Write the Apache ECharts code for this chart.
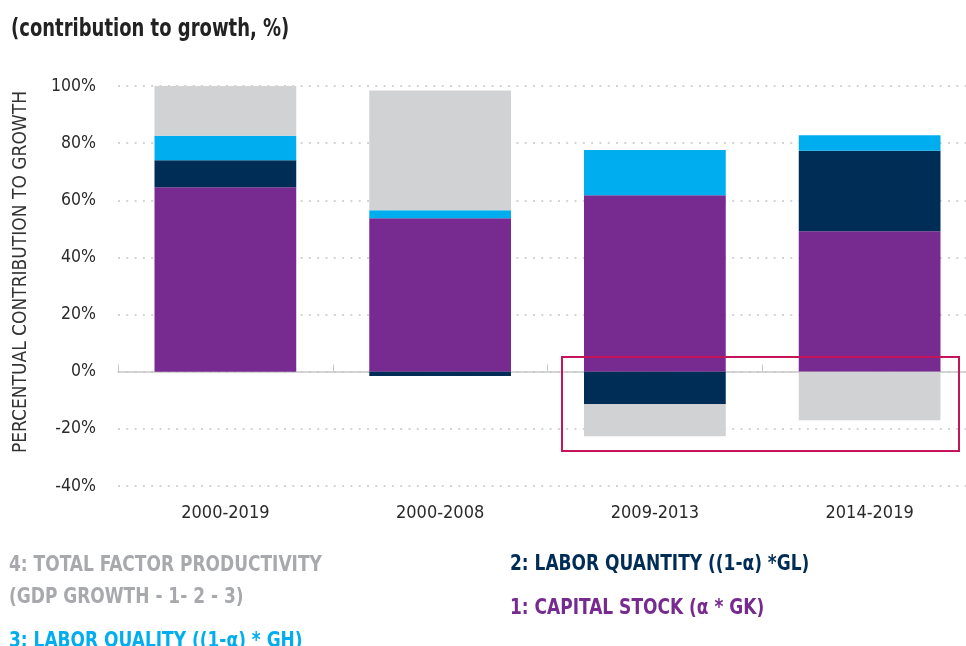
<!DOCTYPE html>
<html>
<head>
<meta charset="utf-8">
<script src="https://cdn.jsdelivr.net/npm/echarts@6/dist/echarts.min.js"></script>
<style>
  html, body { margin: 0; padding: 0; background: #fff; }
  #chart { width: 966px; height: 646px; }
</style>
</head>
<body>
<div id="chart"></div>
<script>
  // data (% contribution to growth)
  var periods = ['2000-2019', '2000-2008', '2009-2013', '2014-2019']
  var capitalStock = [64.6, 53.7, 61.8, 49.2]
  var laborQuantity = [9.4, -1.5, -11.4, 28.1]
  var laborQuality = [8.6, 2.8, 15.8, 5.5]
  var tfp = [17.4, 41.9, -11.2, -17.0]
  var yTicks = [-40, -20, 0, 20, 40, 60, 80, 100]

  var names = [
    '1: CAPITAL STOCK (α * GK)',
    '2: LABOR QUANTITY ((1-α) *GL)',
    '3: LABOR QUALITY ((1-α) * GH)',
    '4: TOTAL FACTOR PRODUCTIVITY\n(GDP GROWTH - 1- 2 - 3)'
  ]
  var colors = ['#772a8f', '#002d56', '#00aeef', '#d1d2d4']
  var legendColors = ['#772a8f', '#002d56', '#00aeef', '#a7a9ac']

  var FONT = '"Liberation Sans Narrow", "DejaVu Sans Condensed", sans-serif'

  var chart = echarts.init(document.getElementById('chart'))

  function barSeries (i, data) {
    return {
      name: names[i],
      type: 'bar',
      stack: 'total',
      data: data,
      barWidth: '66%',
      itemStyle: { color: colors[i] }
    }
  }

  // legend is plain coloured text, slightly squeezed to look condensed
  function legendText (i, x, y) {
    return {
      type: 'text', x: x, y: y, scaleX: 0.86,
      style: { text: names[i], fill: legendColors[i], font: 'bold 22px ' + FONT, lineHeight: 32 }
    }
  }

  chart.setOption({
    animation: false,
    textStyle: { fontFamily: FONT },
    grid: { left: 118, width: 859, top: 86, bottom: 160, outerBoundsMode: 'none' },
    xAxis: [
      { // labels along the bottom
        type: 'category',
        data: periods,
        position: 'bottom',
        axisLine: { show: false, onZero: false },
        axisTick: { show: false },
        axisLabel: { color: '#2a2a2a', fontSize: 18, margin: 18, fontFamily: FONT }
      },
      { // line + ticks at zero
        type: 'category',
        data: periods,
        position: 'bottom',
        axisLine: { show: true, onZero: true, lineStyle: { color: '#c8c8c8', width: 1.5 } },
        axisTick: { show: true, inside: true, length: 7, lineStyle: { color: '#c8c8c8' } },
        axisLabel: { show: false }
      }
    ],
    yAxis: {
      type: 'value',
      min: yTicks[0],
      max: yTicks[yTicks.length - 1],
      interval: 20,
      axisLine: { show: false },
      axisTick: { show: false },
      axisLabel: {
        color: '#2a2a2a',
        fontSize: 17.5,
        margin: 22,
        fontFamily: FONT,
        formatter: function (v) { return v + '%' }
      },
      splitLine: {
        show: true,
        lineStyle: { color: '#d4d4d4', width: 2, type: [2, 6.3] }
      }
    },
    series: [
      barSeries(0, capitalStock),
      barSeries(1, laborQuantity),
      barSeries(2, laborQuality),
      barSeries(3, tfp)
    ],
    graphic: [
      {
        type: 'text', x: 11, y: 17, scaleX: 0.8,
        style: { text: '(contribution to growth, %)', fill: '#222', font: 'bold 25px ' + FONT }
      },
      {
        type: 'text', x: 21, y: 272, rotation: Math.PI / 2, scaleX: 0.95,
        style: {
          text: 'PERCENTUAL CONTRIBUTION TO GROWTH', fill: '#333',
          font: '20px ' + FONT, align: 'center', verticalAlign: 'middle'
        }
      },
      { // red highlight box
        type: 'rect', z: 100,
        shape: { x: 562, y: 357, width: 397, height: 94 },
        style: { fill: 'none', stroke: '#c4145a', lineWidth: 2 }
      },
      legendText(3, 9, 549),
      legendText(2, 9, 625),
      legendText(1, 510, 548),
      legendText(0, 510, 592)
    ]
  })
</script>
</body>
</html>
